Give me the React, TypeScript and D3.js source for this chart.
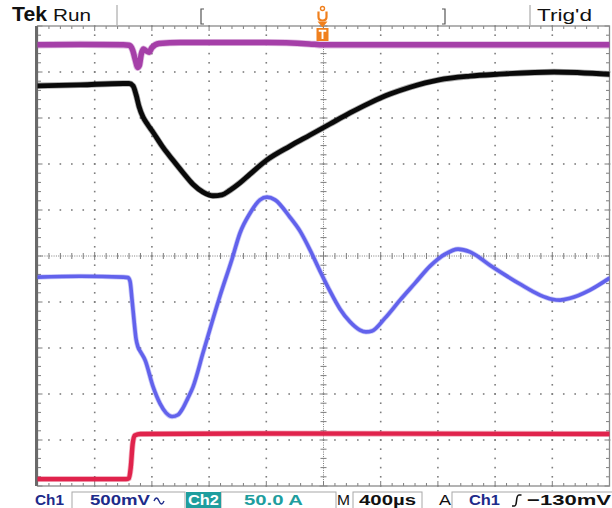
import React, { useEffect } from "react";
import * as d3 from "d3";

// time in µs from left edge of screen (400 µs/div, 10 div), value in vertical divisions (center = 0)
const timeDomain: [number, number] = [0, 4000];
const divDomain: [number, number] = [-5, 5];

const purpleTrace: [number, number][] = [
  [0, 4.59], [300, 4.6], [600, 4.59], [640, 4.58], [665, 4.48], [685, 4.25], [700, 4.1],
  [712, 4.14], [725, 4.38], [740, 4.5], [760, 4.46], [780, 4.43], [800, 4.53], [850, 4.62],
  [1000, 4.64], [1600, 4.64], [1900, 4.61], [2000, 4.59], [3000, 4.59], [4000, 4.59],
];

const blackTrace: [number, number][] = [
  [0, 3.7], [300, 3.72], [600, 3.75], [640, 3.75], [668, 3.7], [690, 3.5], [710, 3.25],
  [738, 3.02], [770, 2.86], [808, 2.69], [878, 2.36], [948, 2.08], [1018, 1.81], [1087, 1.56],
  [1157, 1.39], [1227, 1.31], [1290, 1.33], [1346, 1.43], [1416, 1.59], [1486, 1.78],
  [1605, 2.09], [1766, 2.39], [1906, 2.63], [2045, 2.87], [2185, 3.11], [2325, 3.33],
  [2465, 3.52], [2605, 3.67], [2808, 3.83], [3024, 3.91], [3213, 3.95], [3612, 4.0], [4000, 3.95],
];

const blueTrace: [number, number][] = [
  [0, -0.46], [300, -0.44], [600, -0.46], [633, -0.47], [647, -0.55], [661, -0.95],
  [675, -1.4], [689, -1.8], [703, -1.98], [720, -2.08], [752, -2.26], [808, -2.84],
  [857, -3.21], [899, -3.41], [941, -3.49], [983, -3.45], [1018, -3.3], [1050, -3.1],
  [1087, -2.85], [1157, -2.11], [1206, -1.59], [1276, -0.87], [1360, -0.07], [1416, 0.5],
  [1486, 0.93], [1556, 1.22], [1605, 1.28], [1661, 1.22], [1766, 0.84], [1836, 0.54],
  [1906, 0.13], [1976, -0.33], [2045, -0.76], [2115, -1.15], [2185, -1.43], [2255, -1.61],
  [2297, -1.65], [2339, -1.63], [2430, -1.35], [2535, -0.96], [2640, -0.59], [2745, -0.22],
  [2850, 0.04], [2941, 0.15], [3024, 0.09], [3164, -0.2], [3269, -0.41], [3374, -0.61],
  [3514, -0.85], [3598, -0.94], [3654, -0.96], [3723, -0.92], [3863, -0.74], [4000, -0.48],
];

const redTrace: [number, number][] = [
  [0, -4.85], [300, -4.85], [620, -4.85], [640, -4.83], [652, -4.6], [665, -4.1],
  [680, -3.9], [720, -3.87], [1500, -3.86], [4000, -3.87],
];

const headerLabels = { brand: "Tek", state: "Run", trig: "Trig'd" };
const ch1Scale = "500mV";
const ch2Scale = "50.0 A";
const timeBase = "400µs";
const trigLevel = "−130mV";

export default function App() {
  useEffect(() => {
    document.body.style.margin = "0";
  }, []);

  const x = d3.scaleLinear().domain(timeDomain).range([37.5, 609.5]);
  const y = d3.scaleLinear().domain(divDomain).range([486, 26]);
  const line = d3
    .line<[number, number]>()
    .x((d) => x(d[0]))
    .y((d) => y(d[1]))
    .curve(d3.curveMonotoneX);

  const majorX = d3.range(11).map((i) => i * 400);
  const minorX = d3.range(51).map((i) => i * 80);
  const majorY = d3.range(11).map((i) => -5 + i);
  const minorY = d3.range(51).map((i) => -5 + i * 0.2);

  const x0 = x(2000);
  const y0 = y(0);
  const gridCol = "#7d7d7d";

  const dots: JSX.Element[] = [];
  majorY.forEach((v, j) => {
    if (j === 0 || j === 10 || j === 5) return;
    minorX.forEach((t, i) => {
      dots.push(<rect key={`h${j}-${i}`} x={x(t) - 0.8} y={y(v) - 0.8} width={1.6} height={1.6} fill={gridCol} />);
    });
  });
  majorX.forEach((t, j) => {
    if (j === 0 || j === 10 || j === 5) return;
    minorY.forEach((v, i) => {
      dots.push(<rect key={`v${j}-${i}`} x={x(t) - 0.8} y={y(v) - 0.8} width={1.6} height={1.6} fill={gridCol} />);
    });
  });

  const traces = [
    { d: purpleTrace, c: "#a53fa8", w: 5.5 },
    { d: blackTrace, c: "#0a0a0a", w: 4.8 },
    { d: blueTrace, c: "#6262ec", w: 3.6 },
    { d: redTrace, c: "#e0234c", w: 4.4 },
  ];

  const orange = "#f0801e";
  const navy = "#1d2b8a";
  const teal = "#1f9e9e";
  const fontS = "'Liberation Sans', Arial, sans-serif";

  return (
    <svg width={612} height={508} style={{ position: "absolute", left: 0, top: 0, background: "#fff" }}>
      <rect x={0} y={0} width={612} height={508} fill="#fff" />
      {/* Header */}
      <text x={12} y={21} fontFamily={fontS} fontWeight="bold" fontSize={20} textLength={35} lengthAdjust="spacingAndGlyphs" fill="#111">
        {headerLabels.brand}
      </text>
      <text x={53} y={21} fontFamily={fontS} fontSize={16} textLength={38} lengthAdjust="spacingAndGlyphs" fill="#111">
        {headerLabels.state}
      </text>
      <line x1={117} x2={117} y1={5} y2={25} stroke="#9a9a9a" strokeWidth={1} />
      <line x1={530} x2={530} y1={5} y2={25} stroke="#9a9a9a" strokeWidth={1} />
      <path d="M204 9 H201 V24 H204" fill="none" stroke="#555" strokeWidth={1.2} />
      <path d="M442 9 H445 V24 H442" fill="none" stroke="#555" strokeWidth={1.2} />
      <text x={537} y={21} fontFamily={fontS} fontSize={16} textLength={55} lengthAdjust="spacingAndGlyphs" fill="#111">
        {headerLabels.trig}
      </text>

      {/* Graticule */}
      {dots}
      <line x1={x(0)} x2={x(4000)} y1={y0} y2={y0} stroke={gridCol} strokeWidth={1} strokeDasharray="1 1.3" />
      <line x1={x0} x2={x0} y1={y(5)} y2={y(-5)} stroke={gridCol} strokeWidth={1} strokeDasharray="1 1.3" />
      {minorX.map((t, i) => (
        <line key={`ct${i}`} x1={x(t)} x2={x(t)} y1={y0 - (i % 5 === 0 ? 4 : 3)} y2={y0 + (i % 5 === 0 ? 4 : 3)} stroke={gridCol} strokeWidth={1} />
      ))}
      {minorY.map((v, i) => (
        <line key={`cv${i}`} x1={x0 - (i % 5 === 0 ? 4 : 3)} x2={x0 + (i % 5 === 0 ? 4 : 3)} y1={y(v)} y2={y(v)} stroke={gridCol} strokeWidth={1} />
      ))}
      {minorX.map((t, i) => (
        <g key={`bt${i}`}>
          <line x1={x(t)} x2={x(t)} y1={y(5)} y2={y(5) + (i % 5 === 0 ? 5 : 3)} stroke={gridCol} strokeWidth={1} />
          <line x1={x(t)} x2={x(t)} y1={y(-5)} y2={y(-5) - (i % 5 === 0 ? 5 : 3)} stroke={gridCol} strokeWidth={1} />
        </g>
      ))}
      {minorY.map((v, i) => (
        <g key={`bl${i}`}>
          <line x1={x(0)} x2={x(0) + (i % 5 === 0 ? 5 : 3.5)} y1={y(v)} y2={y(v)} stroke={gridCol} strokeWidth={1} />
          <line x1={x(4000)} x2={x(4000) - (i % 5 === 0 ? 5 : 3.5)} y1={y(v)} y2={y(v)} stroke={gridCol} strokeWidth={1} />
        </g>
      ))}
      <rect x={x(0)} y={y(5)} width={x(4000) - x(0)} height={y(-5) - y(5)} fill="none" stroke="#8a8a8a" strokeWidth={1.3} />
      <line x1={x(0) - 1} x2={x(0) - 1} y1={y(5)} y2={y(-5)} stroke="#6a6a6a" strokeWidth={3} />

      {/* Traces */}
      <defs>
        <clipPath id="scr">
          <rect x={x(0)} y={y(5)} width={x(4000) - x(0)} height={y(-5) - y(5)} />
        </clipPath>
      </defs>
      <g clipPath="url(#scr)">
        {traces.map((tr, i) => (
          <g key={`tr${i}`}>
            <path d={line(tr.d) || ""} fill="none" stroke={tr.c} strokeOpacity={0.35} strokeWidth={tr.w + 1.6} strokeLinejoin="round" />
            <path d={line(tr.d) || ""} fill="none" stroke={tr.c} strokeWidth={tr.w} strokeLinejoin="round" strokeLinecap="round" />
          </g>
        ))}
      </g>

      {/* Trigger position markers */}
      <g transform={`translate(${x0 - 1},0)`}>
        <circle cx={0} cy={8.5} r={2} fill="none" stroke={orange} strokeWidth={1.4} />
        <path d="M-4 11.5 V17 Q-4 20.5 0 20.5 Q4 20.5 4 17 V11.5" fill="none" stroke={orange} strokeWidth={2.2} />
        <path d="M-5 21.5 H5 L0 27.5 Z" fill={orange} />
        <rect x={-6} y={28} width={12} height={13} fill={orange} />
        <path d="M-3.8 30.8 H3.8 M0 30.8 V39" stroke="#fff" strokeWidth={1.9} />
      </g>

      {/* Bottom status bar */}
      <g fontFamily={fontS} fontWeight="bold" fontSize={15}>
        <rect x={72} y={492} width={113} height={18} fill="none" stroke="#a8a8a8" strokeWidth={1} />
        <rect x={221} y={492} width={115} height={18} fill="none" stroke="#a8a8a8" strokeWidth={1} />
        <rect x={353} y={492} width={69} height={18} fill="none" stroke="#a8a8a8" strokeWidth={1} />
        <rect x={452} y={492} width={162} height={18} fill="none" stroke="#a8a8a8" strokeWidth={1} />
        <text x={35} y={505} fill={navy} textLength={29} lengthAdjust="spacingAndGlyphs">Ch1</text>
        <text x={90} y={505} fill={navy} textLength={60} lengthAdjust="spacingAndGlyphs">{ch1Scale}</text>
        <path d="M154 501 q2.5 -6 5 0 t5 0" fill="none" stroke={navy} strokeWidth={1.4} />
        <rect x={186} y={492} width={35} height={16} fill={teal} />
        <text x={188} y={505} fill="#fff" textLength={31} lengthAdjust="spacingAndGlyphs">Ch2</text>
        <text x={244} y={505} fill={teal} textLength={59} lengthAdjust="spacingAndGlyphs">{ch2Scale}</text>
        <text x={337} y={505} fill="#111" fontWeight="normal" textLength={13} lengthAdjust="spacingAndGlyphs">M</text>
        <text x={359} y={505} fill="#111" textLength={57} lengthAdjust="spacingAndGlyphs">{timeBase}</text>
        <text x={439} y={505} fill="#111" fontWeight="normal" textLength={12} lengthAdjust="spacingAndGlyphs">A</text>
        <text x={469} y={505} fill={navy} textLength={31} lengthAdjust="spacingAndGlyphs">Ch1</text>
        <path d="M512 506 H514.5 Q516 506 516.5 501 Q517 495 519 495 H521.5" fill="none" stroke="#111" strokeWidth={1.6} />
        <text x={527} y={505} fill="#111" textLength={84} lengthAdjust="spacingAndGlyphs">{trigLevel}</text>
      </g>
    </svg>
  );
}
